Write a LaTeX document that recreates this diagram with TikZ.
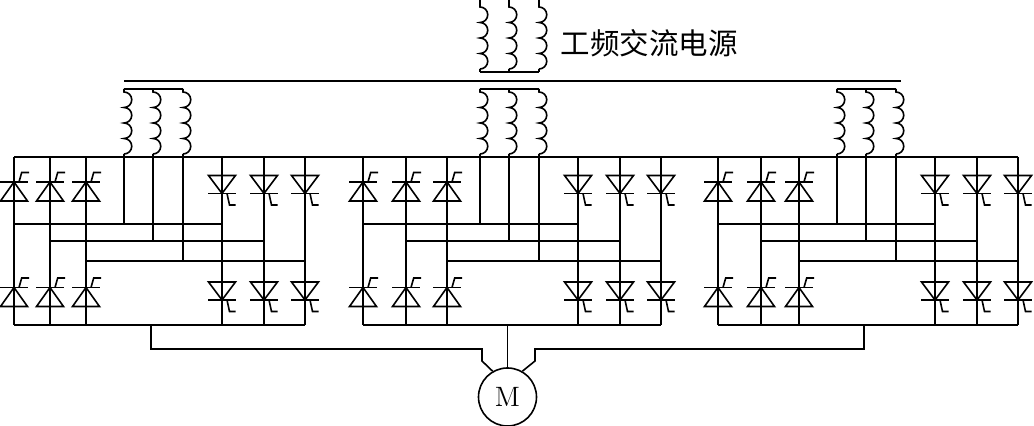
\documentclass[tikz,border=0pt]{standalone}
\usepackage{fontspec}
\usepackage{tikz}
\newfontfamily\cjkfont{Noto Sans CJK SC}

\begin{document}
\begin{tikzpicture}[x=0.5pt, y=-0.5pt, line width=0.8pt,
        thyup/.pic={
            \draw (-14,0) -- (14,0);
            \draw (0,0) -- (-13.5,19) -- (13.5,19) -- cycle;
            \draw (5,0) -- (7.7,-9.5) -- (15,-9.5);
        },
        thydown/.pic={
            \draw (-14,0) -- (14,0);
            \draw (0,0) -- (-13.5,-18) -- (13.5,-18) -- cycle;
            \draw (5,0) -- (7.5,11.5) -- (13.5,11.5);
        },
        winding/.pic={
            \draw (0,0) -- (0,3)
                arc[start angle=-90, end angle=90, radius=7.75]
                arc[start angle=-90, end angle=90, radius=7.75]
                arc[start angle=-90, end angle=90, radius=7.75]
                arc[start angle=-90, end angle=90, radius=7.75];
        }]
        \useasboundingbox (0,0) rectangle (1034,426);
        % mains transformer
        \foreach \x in {480,509,539} {
            \draw (\x,0) -- (\x,4);
            \pic at (\x,4) {winding};
            \draw (\x,69) -- (\x,72);
        }
        \draw (480,72) -- (539,72);
        \node (source) [anchor=west, inner sep=0pt, font=\cjkfont\fontsize{14.75}{16}\selectfont] at (560,43.5) {工频交流电源};
        \draw (124,81) -- (901,81);
        \draw (14,157) -- (1018,157);
        % three bridges
        \foreach \a/\b/\c/\p/\q/\r/\u/\v/\w in {14/50/86/124/153/183/222/264/305,
                363/406/447/480/509/539/578/620/661,
                718/761/799/837/866/896/935/977/1018} {
            \foreach \x in {\a,\b,\c,\u,\v,\w}
                \draw (\x,157) -- (\x,325);
            \draw (\a,325) -- (\w,325);
            \draw (\a,224) -- (\u,224)
                  (\b,241) -- (\v,241)
                  (\c,261) -- (\w,261);
            \draw (\p,89) -- (\r,89);
            \foreach \x in {\p,\q,\r}
                \pic at (\x,89) {winding};
            \draw (\p,154) -- (\p,224)
                  (\q,154) -- (\q,241)
                  (\r,154) -- (\r,261);
            \foreach \x in {\a,\b,\c} {
                \pic at (\x,182) {thyup};
                \pic at (\x,287.5) {thyup};
            }
            \foreach \x in {\u,\v,\w} {
                \pic at (\x,193.5) {thydown};
                \pic at (\x,300) {thydown};
            }
        }
        % motor
        \node (motor) [draw, circle, minimum size=29pt, inner sep=0pt, font=\fontsize{14}{16}\selectfont] at (507.5,397) {M};
        \draw (151,325) -- (151,349) -- (482,349) -- (482,361) -- (motor.120);
        \draw (507.5,325) -- (motor.north);
        \draw (864,325) -- (864,349) -- (535,349) -- (535,361) -- (motor.60);
    \end{tikzpicture}
\end{document}
